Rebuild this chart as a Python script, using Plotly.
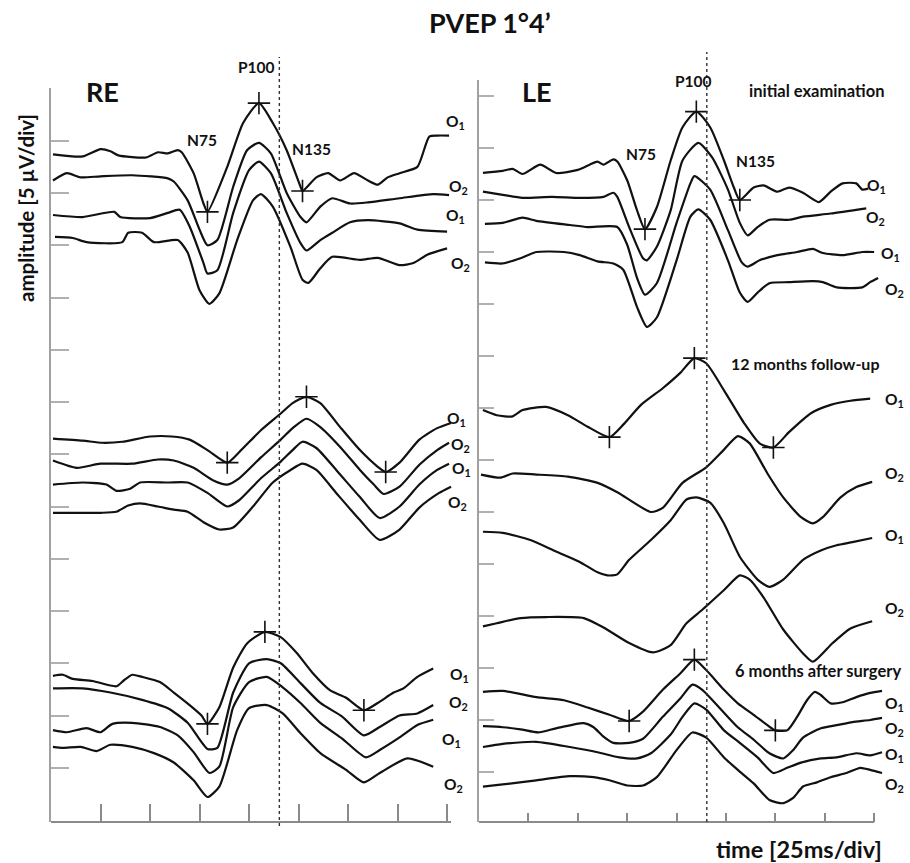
import plotly.graph_objects as go

W, H = 910, 863

# ---------------- data: time (ms) and amplitude (µV, traces stacked) ----------------
# RE  – initial examination
RE_INI_1_T = [1,16,25,30,34,48,54,59,64,66,72,77,79,89,97,105,112,119,126,127,134,140,146,153,160,165,170,176,185,191,195,201]
RE_INI_1_A = [63.7,63.5,64.2,64.0,63.6,63.4,63.9,63.8,64.1,63.9,61.9,59.0,58.2,62.5,66.7,68.6,66.7,64.1,60.6,60.2,61.5,61.9,61.2,61.9,61.2,60.8,61.5,61.9,62.5,65.4,65.5,65.5]
RE_INI_2_T = [1,8,15,25,41,59,62,69,75,79,84,92,99,105,111,119,126,129,136,142,151,160,176,193,201]
RE_INI_2_A = [61.2,61.9,61.5,61.6,61.7,61.4,61.1,59.3,56.5,55.0,55.5,60.6,64.1,64.8,63.8,60.0,57.7,57.2,58.7,59.5,59.0,59.1,59.5,59.9,59.8]
RE_INI_3_T = [1,16,32,35,50,59,65,70,77,79,84,92,100,105,111,119,126,129,136,142,151,160,176,185,200]
RE_INI_3_A = [57.9,57.7,58.2,57.7,57.6,58.1,58.4,56.8,53.3,52.3,52.6,58.1,62.2,63.0,61.9,58.1,55.2,54.5,55.5,56.2,57.2,57.4,57.1,56.5,56.3]
RE_INI_4_T = [2,11,18,36,39,46,52,64,69,75,80,85,94,102,106,112,121,127,130,136,142,156,165,176,183,190,200]
RE_INI_4_A = [55.8,55.7,55.3,55.3,56.2,56.2,55.3,55.5,54.3,50.7,49.4,50.4,55.5,59.3,59.9,58.7,54.8,51.7,51.4,52.8,53.9,53.6,53.8,53.1,53.3,54.1,54.7]
RE_INI_MK_T = [79, 105, 127]
RE_INI_MK_A = [58.2, 68.6, 60.2]

# RE  – 12 months follow-up
RE_12M_1_T = [1,16,26,36,50,61,70,79,89,95,106,116,122,129,136,146,156,165,169,176,186,195,202]
RE_12M_1_A = [36.5,36.3,36.1,36.2,36.7,36.7,36.4,35.4,34.2,35.2,37.3,38.9,39.9,40.5,39.9,37.6,35.4,33.8,33.3,34.2,36.4,37.5,38.0]
RE_12M_2_T = [1,13,25,41,54,62,72,82,89,95,106,116,122,129,136,146,156,163,168,176,186,195,201]
RE_12M_2_A = [34.4,33.7,34.1,34.1,34.5,34.4,33.7,32.5,32.1,32.7,34.7,36.4,37.5,38.4,37.6,35.7,33.5,32.1,31.2,31.9,34.0,35.4,36.1]
RE_12M_3_T = [1,16,28,33,40,45,59,69,79,89,95,106,116,122,127,134,144,156,166,176,186,195,201]
RE_12M_3_A = [32.1,32.3,32.1,31.5,31.7,32.3,32.3,32.3,31.3,30.0,30.6,32.7,34.3,35.4,36.2,35.6,33.5,30.9,28.9,30.0,32.1,33.5,34.1]
RE_12M_4_T = [1,8,25,33,39,45,54,62,69,77,85,92,102,112,121,127,134,144,156,166,176,186,196,202]
RE_12M_4_A = [29.4,29.4,29.4,29.5,30.1,30.3,30.0,29.7,29.5,28.5,27.8,28.0,30.0,32.3,33.5,34.1,33.5,31.3,28.7,26.8,27.8,29.9,31.3,31.9]
RE_12M_MK_T = [89, 129, 169]
RE_12M_MK_A = [34.2, 40.5, 33.3]

# RE  – 6 months after surgery
RE_6M_1_T = [1,6,11,21,33,37,41,46,55,62,70,76,79,85,92,99,108,116,124,132,141,149,158,165,173,178,185,193]
RE_6M_1_A = [13.8,13.9,13.5,13.3,12.8,13.4,13.9,13.7,13.2,12.2,11.0,10.0,9.2,10.8,14.6,16.9,18.0,17.5,16.0,14.1,12.4,11.7,10.5,11.2,12.2,12.6,13.7,14.5]
RE_6M_2_T = [1,16,30,46,59,69,79,84,92,100,109,116,126,136,147,158,166,176,185,193]
RE_6M_2_A = [12.6,12.6,12.2,11.5,10.7,9.3,6.8,6.9,12.2,15.0,15.4,15.0,13.1,11.2,9.9,8.1,8.9,10.0,10.2,11.0]
RE_6M_3_T = [1,8,18,25,31,41,55,64,72,80,85,92,100,109,117,126,136,147,159,166,176,185,193]
RE_6M_3_A = [8.6,8.4,8.8,8.4,9.2,9.3,8.9,8.1,6.5,4.5,5.1,10.8,13.2,13.7,12.7,11.2,9.3,7.8,6.0,6.7,7.9,9.1,9.6]
RE_6M_4_T = [1,6,15,23,30,41,52,62,72,79,85,94,100,109,117,126,136,149,158,166,180,193]
RE_6M_4_A = [7.0,6.9,7.0,6.6,7.2,7.0,6.4,5.5,3.8,2.2,3.2,8.6,10.7,11.0,10.2,8.3,6.4,4.8,3.6,4.5,5.9,5.1]
RE_6M_MK_T = [79, 108, 158]
RE_6M_MK_A = [9.2, 18.0, 10.5]

# LE  – initial examination
LE_INI_1_T = [2,12,17,22,31,39,50,56,60,63,68,70,75,80,84,90,97,103,110,117,124,129,132,139,144,151,157,164,172,178,184,191,194,197]
LE_INI_1_A = [62.6,62.8,63.0,62.5,63.4,62.6,62.9,63.4,63.7,63.4,63.9,63.7,61.9,59.0,57.2,59.3,63.8,67.0,68.5,67.0,63.8,61.2,60.0,61.2,61.4,60.8,61.2,60.7,59.8,60.8,61.6,61.6,61.0,61.1]
LE_INI_2_T = [2,12,22,37,51,63,68,70,76,83,85,90,97,103,111,118,126,132,136,141,147,157,164,178,196]
LE_INI_2_A = [60.8,60.5,60.2,60.3,60.2,60.3,60.7,60.3,57.4,54.4,54.2,55.5,59.0,63.8,65.5,64.1,61.0,57.8,56.6,57.4,58.1,58.1,58.4,58.7,59.2]
LE_INI_3_T = [3,12,22,29,46,55,70,75,80,84,90,100,107,109,117,126,133,136,142,151,161,169,174,184,194,200]
LE_INI_3_A = [57.7,57.8,58.3,58.0,57.6,57.4,57.4,55.7,52.5,50.9,52.0,57.8,61.6,62.3,61.0,57.1,54.0,53.6,54.2,54.7,55.0,55.3,54.9,54.7,55.0,55.0]
LE_INI_4_T = [3,12,21,29,43,51,60,68,73,80,85,90,100,107,111,117,126,132,136,141,147,157,169,174,181,194,198,202]
LE_INI_4_A = [54.0,53.9,54.4,55.0,55.0,54.7,54.1,53.9,53.3,49.7,47.8,48.7,54.2,58.4,59.1,58.1,54.2,51.1,50.2,51.1,52.0,52.1,52.2,52.1,51.6,51.6,52.1,52.5]
LE_INI_MK_T = [84, 110, 132]
LE_INI_MK_A = [57.2, 68.5, 60.0]

# LE  – 12 months follow-up
LE_12M_1_T = [2,9,17,22,34,45,55,66,73,82,93,102,109,115,124,134,142,149,157,168,178,188,198]
LE_12M_1_A = [39.8,39.3,39.2,39.8,40.1,39.3,38.2,37.2,38.4,40.3,41.9,43.4,44.8,44.3,41.7,38.6,36.6,36.2,37.7,39.5,40.3,40.7,40.9]
LE_12M_2_T = [1,11,17,29,45,60,70,87,93,103,115,124,131,137,146,154,163,169,174,183,191,199]
LE_12M_2_A = [33.6,33.3,33.7,33.6,33.4,32.8,31.9,30.0,30.4,32.8,34.3,36.0,37.3,36.6,33.7,31.4,29.5,28.9,29.5,31.4,32.4,32.9]
LE_12M_3_T = [2,12,26,39,51,60,65,70,76,87,97,105,110,117,124,132,141,147,154,164,173,181,189,199]
LE_12M_3_A = [28.1,28.0,27.3,26.2,25.2,24.2,23.9,24.0,25.4,27.3,29.2,31.2,31.4,30.9,28.9,25.7,23.5,22.8,23.5,25.4,26.3,26.8,27.1,27.5]
LE_12M_4_T = [2,9,21,34,53,63,76,88,97,105,113,124,132,137,144,154,164,169,179,188,199]
LE_12M_4_A = [19.0,19.3,19.8,19.9,19.8,18.9,17.4,16.5,17.2,19.3,20.6,22.5,23.9,23.5,21.8,18.7,16.4,15.6,17.4,18.8,19.5]
LE_12M_MK_T = [66, 109, 149]
LE_12M_MK_A = [37.2, 44.8, 36.2]

# LE  – 6 months after surgery
LE_6M_1_T = [2,12,29,43,55,66,76,83,93,102,109,115,124,131,139,146,150,156,161,166,170,173,178,184,191,198,204]
LE_6M_1_A = [12.7,12.8,12.2,11.9,11.2,10.5,9.9,10.8,12.9,14.5,15.8,14.8,12.9,11.6,10.5,9.5,9.0,9.0,10.3,11.9,12.7,12.4,11.6,11.7,12.2,12.6,12.8]
LE_6M_2_T = [2,12,21,30,39,53,58,63,68,76,83,93,102,108,113,124,131,139,147,154,159,164,173,181,189,198,204]
LE_6M_2_A = [9.4,9.3,9.1,8.8,9.2,9.7,9.3,8.4,7.8,7.8,8.2,10.3,12.1,13.4,12.9,10.7,9.3,8.1,6.8,6.3,7.1,8.3,9.2,9.5,9.8,10.0,10.2]
LE_6M_3_T = [2,12,29,46,60,71,80,87,97,103,109,115,124,132,141,149,156,163,173,181,191,198,204]
LE_6M_3_A = [7.4,7.7,7.9,7.4,6.9,6.4,6.3,6.8,8.6,10.3,11.6,11.0,9.0,7.8,6.4,4.9,5.4,5.9,6.3,6.4,6.8,6.6,6.9]
LE_6M_4_T = [2,12,29,46,58,66,75,83,90,100,108,115,124,131,139,147,154,159,164,171,178,186,193,198,204]
LE_6M_4_A = [3.6,3.8,4.2,4.6,4.5,4.2,3.7,3.7,4.5,7.1,8.8,8.3,6.4,5.2,3.9,2.3,2.0,2.5,3.6,4.0,4.5,4.9,5.4,5.2,4.9]
LE_6M_MK_T = [76, 109, 150]
LE_6M_MK_A = [9.9, 15.8, 9.0]

TIME_TICKS = [0, 25, 50, 75, 100, 125, 150, 175, 200]   # 25 ms / div
AMP_TICKS = [5, 10, 15, 20, 25, 30, 35, 40, 45, 50, 55, 60, 65, 70]  # 5 µV / div
REF_LATENCY_MS = 115.3   # dotted reference line

CHANNELS = ["O<sub>1</sub>", "O<sub>2</sub>", "O<sub>1</sub>", "O<sub>2</sub>"]

RE_TRACES = [(RE_INI_1_T, RE_INI_1_A), (RE_INI_2_T, RE_INI_2_A), (RE_INI_3_T, RE_INI_3_A), (RE_INI_4_T, RE_INI_4_A),
             (RE_12M_1_T, RE_12M_1_A), (RE_12M_2_T, RE_12M_2_A), (RE_12M_3_T, RE_12M_3_A), (RE_12M_4_T, RE_12M_4_A),
             (RE_6M_1_T, RE_6M_1_A), (RE_6M_2_T, RE_6M_2_A), (RE_6M_3_T, RE_6M_3_A), (RE_6M_4_T, RE_6M_4_A)]
LE_TRACES = [(LE_INI_1_T, LE_INI_1_A), (LE_INI_2_T, LE_INI_2_A), (LE_INI_3_T, LE_INI_3_A), (LE_INI_4_T, LE_INI_4_A),
             (LE_12M_1_T, LE_12M_1_A), (LE_12M_2_T, LE_12M_2_A), (LE_12M_3_T, LE_12M_3_A), (LE_12M_4_T, LE_12M_4_A),
             (LE_6M_1_T, LE_6M_1_A), (LE_6M_2_T, LE_6M_2_A), (LE_6M_3_T, LE_6M_3_A), (LE_6M_4_T, LE_6M_4_A)]
RE_MARKS = [(RE_INI_MK_T, RE_INI_MK_A), (RE_12M_MK_T, RE_12M_MK_A), (RE_6M_MK_T, RE_6M_MK_A)]
LE_MARKS = [(LE_INI_MK_T, LE_INI_MK_A), (LE_12M_MK_T, LE_12M_MK_A), (LE_6M_MK_T, LE_6M_MK_A)]

# ---------------- figure ----------------
FONT = "Lato"
INK = "#111111"

fig = go.Figure()

for traces, marks, xa, ya in [(RE_TRACES, RE_MARKS, "x", "y"), (LE_TRACES, LE_MARKS, "x2", "y2")]:
    for t, a in traces:
        fig.add_trace(go.Scatter(x=t, y=a, mode="lines", xaxis=xa, yaxis=ya,
                                 line=dict(color=INK, width=2.2, shape="spline", smoothing=0.6),
                                 hoverinfo="skip"))
    for t, a in marks:
        fig.add_trace(go.Scatter(x=t, y=a, mode="markers", xaxis=xa, yaxis=ya, cliponaxis=False,
                                 marker=dict(symbol="cross-thin", size=16, color=INK,
                                             line=dict(width=1.6, color=INK)),
                                 hoverinfo="skip"))


def pxx(x):
    return x / W


def pxy(y):
    return 1 - y / H


common_x = dict(showgrid=False, zeroline=False, showline=False, showticklabels=False,
                ticks="inside", tickvals=TIME_TICKS, tickcolor="#8a8a8a", tickwidth=1.6)
common_y = dict(showgrid=False, zeroline=False, showline=True, linecolor="#a0a0a0", linewidth=2,
                showticklabels=False, ticks="inside", tickvals=AMP_TICKS,
                tickcolor="#b0b0b0", tickwidth=1.6)

fig.update_layout(
    width=W, height=H, autosize=False,
    margin=dict(l=0, r=0, t=0, b=0),
    paper_bgcolor="white", plot_bgcolor="rgba(0,0,0,0)",
    showlegend=False,
    xaxis=dict(domain=[pxx(51), pxx(455)], range=[0, 204], anchor="y", ticklen=18, **common_x),
    yaxis=dict(domain=[pxy(822), pxy(88)], range=[-0.19, 70.05], anchor="x", ticklen=18, **common_y),
    xaxis2=dict(domain=[pxx(479), pxx(886)], range=[0, 206], anchor="y2", ticklen=9, **common_x),
    yaxis2=dict(domain=[pxy(822), pxy(80)], range=[0.19, 71.54], anchor="x2", ticklen=15, **common_y),
)

# time axis baselines (end at the last division)
fig.add_shape(type="line", xref="x", yref="paper", x0=0, x1=202, y0=pxy(822), y1=pxy(822),
              line=dict(color="#8a8a8a", width=2))
fig.add_shape(type="line", xref="x2", yref="paper", x0=0, x1=200, y0=pxy(822), y1=pxy(822),
              line=dict(color="#8a8a8a", width=2))

# dotted reference latency lines
fig.add_shape(type="line", xref="x", yref="paper", x0=REF_LATENCY_MS, x1=REF_LATENCY_MS,
              y0=pxy(826), y1=pxy(57), line=dict(color="#333333", width=1.4, dash="dot"))
fig.add_shape(type="line", xref="x2", yref="paper", x0=REF_LATENCY_MS, x1=REF_LATENCY_MS,
              y0=pxy(822), y1=pxy(52), line=dict(color="#333333", width=1.4, dash="dot"))

annotations = []


def txt(text, x, y, size, xanchor="center", yanchor="middle", angle=0):
    annotations.append(dict(text=text, x=pxx(x), y=pxy(y), xref="paper", yref="paper",
                            xanchor=xanchor, yanchor=yanchor, showarrow=False, textangle=angle,
                            font=dict(family=FONT, size=size, color=INK, weight="bold")))


txt("PVEP 1°4’", 490, 22, 27)
txt("RE", 102, 91, 27)
txt("LE", 537, 91, 27)
txt("P100", 256, 67, 15.5)
txt("N75", 202, 140, 15.5)
txt("N135", 311, 149, 15.5)
txt("P100", 693, 81, 15.5)
txt("N75", 641, 154, 15.5)
txt("N135", 755, 161, 15.5)
txt("initial examination", 816, 91, 16.5)
txt("12 months follow-up", 805, 363, 16)
txt("6 months after surgery", 818, 671, 16.5)
txt("amplitude [5 µV/div]", 26, 208, 20.5, angle=-90)
txt("time [25ms/div]", 799, 849, 23.5)

RE_LABEL_POS = [(444, 121), (447, 186), (444, 215), (449, 263),
                (445, 418), (449, 444), (450, 468), (446, 502),
                (448, 674), (447, 702), (440, 739), (442, 784)]
LE_LABEL_POS = [(865, 185), (864, 217), (879, 253), (883, 289),
                (883, 399), (883, 473), (883, 535), (883, 608),
                (883, 703), (883, 728), (883, 754), (883, 784)]
for i, (x, y) in enumerate(RE_LABEL_POS):
    txt(CHANNELS[i % 4], x, y + 1, 15.5, xanchor="left")
for i, (x, y) in enumerate(LE_LABEL_POS):
    txt(CHANNELS[i % 4], x, y + 1, 15.5, xanchor="left")

fig.update_layout(annotations=annotations)

fig.write_html("out.html")
